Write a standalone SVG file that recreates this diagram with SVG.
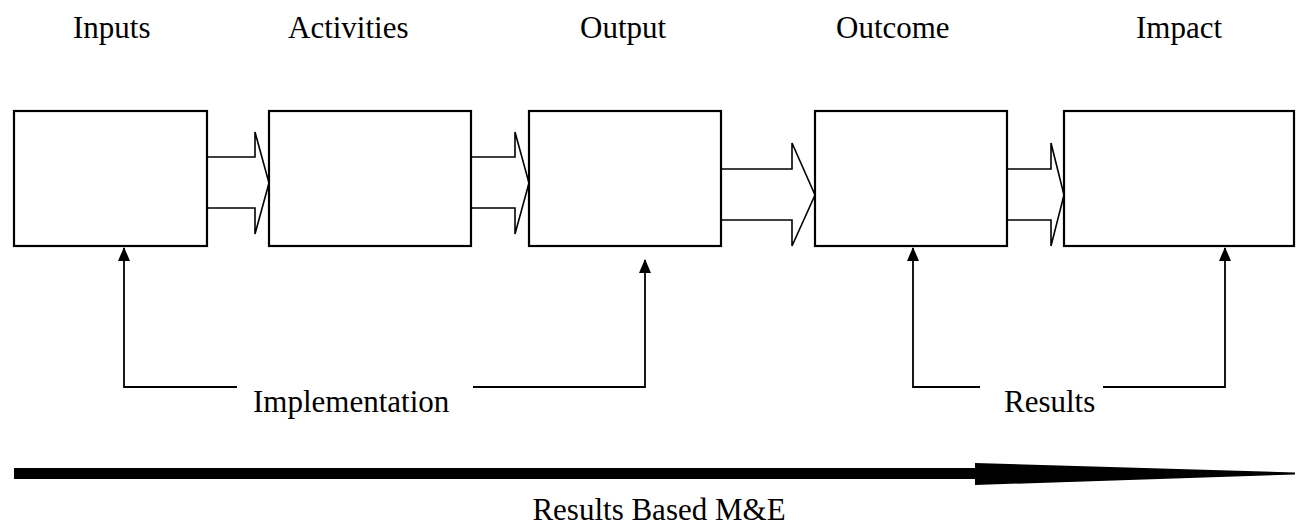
<svg xmlns="http://www.w3.org/2000/svg" width="1296" height="527" viewBox="0 0 1296 527">
<style>
.box{fill:#fff;stroke:#000;stroke-width:2.2}
.blk{fill:#fff;stroke:#000;stroke-width:1.6;stroke-linejoin:miter}
.ln{fill:none;stroke:#000;stroke-width:1.8}
.t{font-family:"Liberation Serif","Times New Roman",serif;font-size:31px;fill:#000}
</style>
<defs>
<marker id="ah" markerWidth="14" markerHeight="12" refX="13" refY="6" orient="auto" markerUnits="userSpaceOnUse" viewBox="0 0 14 12">
<path d="M0,0 L14,6 L0,12 Z" fill="#000"/>
</marker>
</defs>
<rect width="1296" height="527" fill="#fff"/>
<g id="labels">
<text class="t" x="73" y="38">Inputs</text>
<text class="t" x="288" y="38">Activities</text>
<text class="t" x="580" y="38">Output</text>
<text class="t" x="836" y="38">Outcome</text>
<text class="t" x="1136" y="38">Impact</text>
</g>
<g id="connectors">
<path class="blk" d="M207,157 L255,157 L255,132 L269,183 L255,234 L255,208 L207,208 Z"/>
<path class="blk" d="M471,157 L515,157 L515,132 L529,183 L515,234 L515,208 L471,208 Z"/>
<path class="blk" d="M721,169 L792,169 L792,143 L815,195 L792,246 L792,220 L721,220 Z"/>
<path class="blk" d="M1007,169 L1051,169 L1051,143 L1064,195 L1051,246 L1051,220 L1007,220 Z"/>
<path class="ln" d="M237,387 L124,387 L124,248" marker-end="url(#ah)"/>
<path class="ln" d="M473,387 L645,387 L645,260" marker-end="url(#ah)"/>
<path class="ln" d="M980,387 L913,387 L913,248" marker-end="url(#ah)"/>
<path class="ln" d="M1103,387 L1225,387 L1225,248" marker-end="url(#ah)"/>
<polygon points="14,468 975,468 975,463 1295,472.5 1295,474.5 975,485 975,479 14,479" fill="#000"/>
</g>
<g id="node-inputs"><rect class="box" x="14" y="111" width="193" height="135"/></g>
<g id="node-activities"><rect class="box" x="269" y="111" width="202" height="135"/></g>
<g id="node-output"><rect class="box" x="529" y="111" width="192" height="135"/></g>
<g id="node-outcome"><rect class="box" x="815" y="111" width="192" height="135"/></g>
<g id="node-impact"><rect class="box" x="1064" y="111" width="230" height="135"/></g>
<g id="bottom-labels">
<text class="t" x="253" y="412">Implementation</text>
<text class="t" x="1004" y="412">Results</text>
<text class="t" x="659" y="520" text-anchor="middle">Results Based M&amp;E</text>
</g>
</svg>
